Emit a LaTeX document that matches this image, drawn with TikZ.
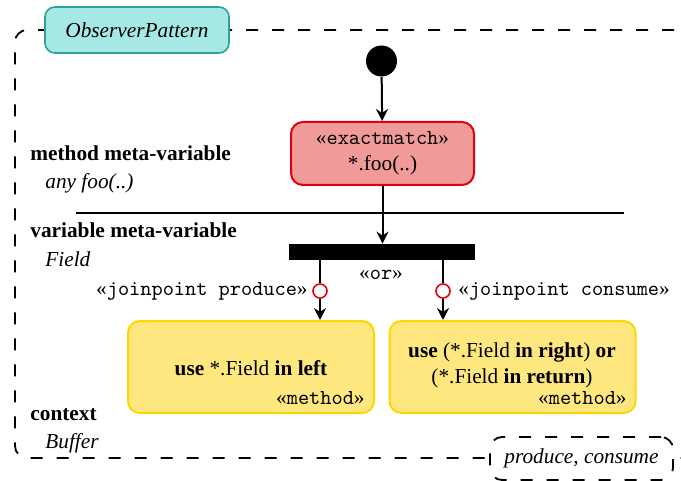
\documentclass[tikz,border=0pt]{standalone}
\usepackage{fontspec}
\setmainfont{Liberation Serif}
\usetikzlibrary{arrows.meta}

\definecolor{patfill}{RGB}{166,233,228}
\definecolor{patline}{RGB}{48,160,150}
\definecolor{matchfill}{RGB}{241,154,154}
\definecolor{matchline}{RGB}{224,0,16}
\definecolor{usefill}{RGB}{255,231,128}
\definecolor{useline}{RGB}{255,214,0}

\begin{document}
\begin{tikzpicture}[x=0.5pt,y=-0.5pt,font=\fontsize{10.65}{13}\selectfont,
  conn/.style={line width=1pt},
  tip/.style={-{Stealth[length=6pt,width=6pt,inset=2pt]}},
  frame/.style={line width=0.9pt,dash pattern=on 6pt off 7pt,rounded corners=6pt},
  usebox/.style={draw=useline,fill=usefill,line width=1pt,rounded corners=6pt,minimum width=123pt,minimum height=46pt},
  joinpt/.style={circle,draw=matchline,fill=white,line width=0.8pt,minimum size=7pt,inner sep=0pt},
  lbl/.style={anchor=base west,inner sep=0pt}]

\useasboundingbox (0,0) rectangle (681,481);
\clip (0,0) rectangle (681,481);

% frame
\draw[frame] (700,30)--(15,30)--(15,458)--(700,458);
\node[draw=patline,fill=patfill,line width=0.8pt,rounded corners=5pt,minimum width=92pt,minimum height=23pt] (pat) at (137,30) {\itshape ObserverPattern};
\node[draw,frame,fill=white,minimum width=91.5pt,minimum height=21.5pt] (ev) at (581.5,458.5) {\itshape produce, consume};

% meta-variables
\foreach \n/\y/\a/\b in {meth/161/method meta-variable/any foo(..),var/238/variable meta-variable/Field,ctx/420/context/Buffer}{
  \node[lbl] (\n) at (30,\y) {\bfseries \a};
  \node[lbl] (\n val) at (45,\y+28) {\itshape \b};
}
\draw[line width=1.2pt] (76,213)--(624,213);

% flow
\node[circle,fill=black,minimum size=15.5pt,inner sep=0pt] (start) at (381.5,61) {};
\node[draw=matchline,fill=matchfill,line width=1pt,rounded corners=6pt,minimum width=91.5pt,minimum height=31.5pt,align=center] (match) at (382.5,153.5) {«\texttt{exactmatch}»\\*.foo(..)};
\node[fill=black,minimum width=93pt,minimum height=8pt,inner sep=0pt] (bar) at (382,252) {};
\node[inner sep=0pt] (or) at (381,275) {«\texttt{or}»};

\draw[conn,tip] (start)--(match);
\draw[conn,tip] (match.south)--(match.south |- bar.north);

\node[usebox] (left) at (251,367) {};
\node[] (lt) at (251,368) {\textbf{use} *.Field \textbf{in left}};
\node[lbl,anchor=base east] (lm) at (365,404) {«\texttt{method}»};

\node[usebox] (right) at (512.5,367) {};
\node[align=center] (rt) at (512,365) {\textbf{use} (*.Field \textbf{in right}) \textbf{or}\\(*.Field \textbf{in return})};
\node[lbl,anchor=base east] (rm) at (627,404) {«\texttt{method}»};

% joinpoints
\node[joinpt] (pl) at (320,291) {};
\node[joinpt] (pr) at (443,291) {};
\foreach \p/\b in {pl/left,pr/right}{
  \draw[conn] (bar.south -| \p)--(\p);
  \draw[conn,tip] (\p)--(\p |- \b.north);
}
\node[anchor=east,inner sep=0pt] (jpl) at (308,291) {«\texttt{joinpoint produce}»};
\node[anchor=west,inner sep=0pt] (jpr) at (458,291) {«\texttt{joinpoint consume}»};
\end{tikzpicture}
\end{document}
